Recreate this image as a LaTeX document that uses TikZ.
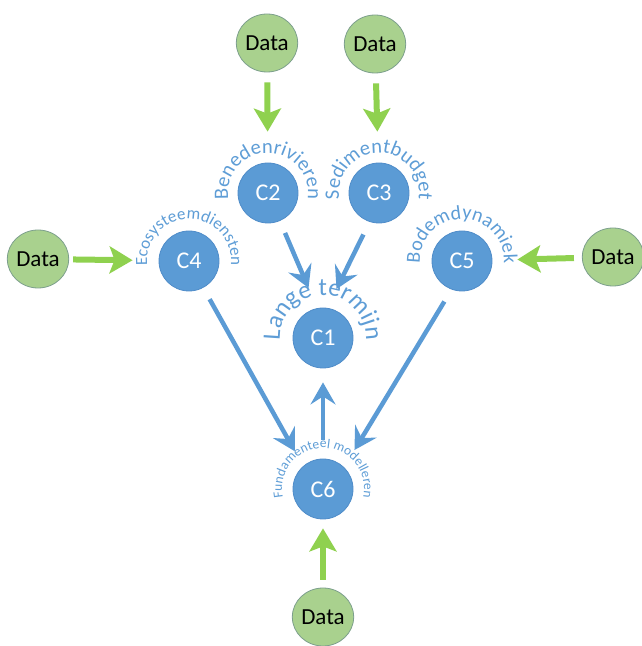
\documentclass[tikz,border=0pt]{standalone}
\usepackage{fontspec}
\setmainfont{Carlito}
\usetikzlibrary{arrows.meta,shapes.geometric,decorations.text}
\definecolor{cblue}{HTML}{5B9BD5}
\definecolor{cblueedge}{HTML}{4F8CC9}
\definecolor{lbl}{HTML}{5E9DD6}
\definecolor{dfill}{HTML}{A9D18E}
\definecolor{dedge}{HTML}{7C9F8C}
\definecolor{garrow}{HTML}{8FD14F}
\tikzset{
  cnode/.style={circle, fill=cblue, draw=cblueedge, line width=0.8pt, minimum size=60pt, inner sep=0pt, text=white, font=\fontsize{24}{24}\selectfont},
  dnode/.style={ellipse, fill=dfill, draw=dedge, line width=0.8pt, minimum width=60pt, minimum height=58pt, inner sep=0pt, font=\fontsize{23}{23}\selectfont},
  garr/.style={draw=garrow, line width=6pt, -{Stealth[length=23pt,width=27pt,inset=5pt]}},
  barr/.style={draw=cblue, line width=4.5pt, -{Stealth[length=22pt,width=25pt,inset=8pt]}}
}
\newcommand\arclab[4]{%
  \path[decorate, decoration={text along path, text align=center,
    text={|\color{lbl}\fontsize{#3}{#3}\selectfont|#4}}]
    (#1.center) ++(200:#2) arc[start angle=200, end angle=-20, radius=#2];}
\begin{document}
\begin{tikzpicture}[x=1pt,y=1pt]
\useasboundingbox (0,0) rectangle (641,646);
% circles
\node[cnode] (C2) at (268,453) {C2};
\node[cnode] (C3) at (379,453) {C3};
\node[cnode] (C4) at (189,385) {C4};
\node[cnode] (C5) at (462,385) {C5};
\node[cnode] (C1) at (323,308) {C1};
\node[cnode] (C6) at (323,157) {C6};
% data
\node[dnode] (D1) at (267,603) {Data};
\node[dnode] (D2) at (375,602) {Data};
\node[dnode] (D3) at (38,387) {Data};
\node[dnode] (D4) at (613,389) {Data};
\node[dnode] (D5) at (323,29) {Data};
% curved labels
\arclab{C2}{40}{20.5}{Benedenrivieren}
\arclab{C3}{40}{20.5}{Sedimentbudget}
\arclab{C4}{42}{17}{Ecosysteemdiensten}
\arclab{C5}{42}{20}{Bodemdynamiek}
\arclab{C1}{43}{25}{Lange termijn}
\arclab{C6}{41}{13.5}{Fundamenteel modelleren}
% green arrows
\draw[garr, shorten <=10pt, shorten >=31pt] (D1) -- (C2);
\draw[garr, shorten <=10pt, shorten >=31pt] (D2) -- (C3);
\draw[garr, shorten <=4pt, shorten >=26pt] (D3) -- (C4);
\draw[garr, shorten <=8pt, shorten >=25pt] (D4) -- (C5);
\draw[garr, shorten <=8pt, shorten >=9pt] (D5) -- (C6);
% blue arrows
\draw[barr, shorten <=13pt, shorten >=22pt] (C2.-67) -- (C1.101);
\draw[barr, shorten <=14pt, shorten >=21pt] (C3.252) -- (C1.82);
\draw[barr, shorten <=13pt, shorten >=17pt] (C4.-62) -- (C6.131);
\draw[barr, shorten <=14pt, shorten >=20pt] (C5.250) -- (C6.46);
\draw[barr, shorten <=19pt, shorten >=14pt] (C6.north) -- (C1.south);
\end{tikzpicture}
\end{document}
